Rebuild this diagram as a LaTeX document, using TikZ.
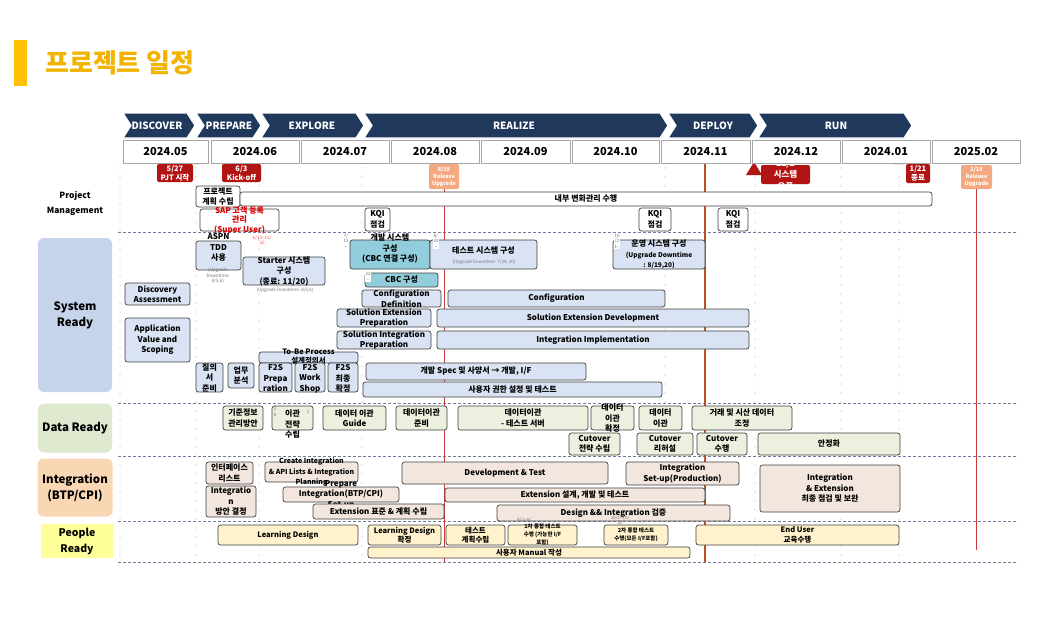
\documentclass[tikz,border=0pt]{standalone}
\usepackage{fontspec}
\setmainfont{Noto Sans CJK KR}
\usepackage{tikz}

\definecolor{navy}{RGB}{31,56,92}
\definecolor{titleyel}{RGB}{255,192,0}
\definecolor{titletxt}{RGB}{242,180,0}
\definecolor{msred}{RGB}{178,20,20}
\definecolor{relsalmon}{RGB}{244,168,128}
\definecolor{sysfill}{RGB}{218,227,243}
\definecolor{syslbl}{RGB}{197,212,235}
\definecolor{tealfill}{RGB}{146,205,220}
\definecolor{datfill}{RGB}{235,241,222}
\definecolor{datlbl}{RGB}{222,233,208}
\definecolor{intfill}{RGB}{242,230,222}
\definecolor{intlbl}{RGB}{249,215,180}
\definecolor{pplfill}{RGB}{255,242,204}
\definecolor{ppllbl}{RGB}{255,255,153}
\definecolor{sepgray}{RGB}{120,120,155}
\definecolor{dotgray}{RGB}{175,175,175}
\definecolor{novbrown}{RGB}{184,80,40}
\definecolor{relred}{RGB}{200,60,60}

\newcommand{\boxfont}{\fontsize{8}{10.5}\selectfont\bfseries}
\newcommand{\datefont}{\fontsize{4.5}{5.5}\selectfont}
\newcommand{\msfont}{\fontsize{7.5}{9}\selectfont\bfseries}
\newcommand{\relfont}{\fontsize{5.5}{7}\selectfont\bfseries}
\newcommand{\pplfont}{\fontsize{7.5}{9.5}\selectfont\bfseries}
\newcommand{\tinybold}{\fontsize{5.5}{8}\selectfont\bfseries}
\newcommand{\smallbold}{\fontsize{7}{10.5}\selectfont\bfseries}

% box from (x1,y1) to (x2,y2), text on top of it
\newcommand{\task}[8][]{%
  \node[#3, minimum width={(#6-#4)*1pt}, minimum height={(#7-#5)*1pt}] (#2) at ({(#4+#6)/2},{(#5+#7)/2}) {};
  \node[lbl, #1] (#2-t) at (#2.center) {#8};}

\tikzset{
  taskbox/.style={draw=black!75, rounded corners=2.5pt, line width=0.7pt, inner sep=0pt},
  pmbox/.style={taskbox, fill=white},
  sysbox/.style={taskbox, fill=sysfill},
  cbcbox/.style={taskbox, fill=tealfill},
  datbox/.style={taskbox, fill=datfill},
  intbox/.style={taskbox, fill=intfill},
  pplbox/.style={taskbox, fill=pplfill},
  msbox/.style={fill=msred, rounded corners=2pt, inner sep=0pt},
  relbox/.style={fill=relsalmon, rounded corners=2pt, inner sep=0pt},
  lbl/.style={align=center, inner sep=0pt, font=\boxfont},
  tinylbl/.style={align=center, inner sep=0pt, font=\datefont, text=black!55},
  datelbl/.style={tinylbl, fill=white, inner sep=0.5pt},
  rowlbl/.style={rounded corners=6pt, align=center, inner sep=0pt, font=\fontsize{11.5}{16}\selectfont\bfseries},
  phase/.style={fill=navy, draw=white, line width=1.2pt},
  phasetxt/.style={text=white, font=\fontsize{10}{12}\selectfont\bfseries},
  month/.style={draw=black!35, fill=white, line width=0.8pt, minimum height=23pt, inner sep=0pt, font=\fontsize{11}{12}\selectfont\bfseries},
  vgrid/.style={dotgray, line width=1.3pt, dash pattern=on 0pt off 9pt, line cap=round},
  hsep/.style={sepgray, line width=0.8pt, dash pattern=on 3pt off 2pt},
  relline/.style={relred, line width=0.9pt},
  novline/.style={novbrown, line width=2.4pt},
}

\begin{document}
\begin{tikzpicture}[x=1pt, y=-1pt]
\useasboundingbox[fill=white] (0,0) rectangle (1060,641);

% title
\fill[titleyel] (14,40) rectangle (27,86);
\node[anchor=west, text=titletxt, font=\fontsize{26}{30}\selectfont\bfseries, inner sep=0pt] (title) at (45,63) {프로젝트 일정};

% grid
\foreach \x in {120,196,259,362,665,755,841,899}
  \draw[vgrid] (\x,168) -- (\x,562);
\foreach \y in {232,403,456,521,562}
  \draw[hsep] (118,\y) -- (1018,\y);

% milestones
\fill[msred] (195,153) -- (200,164) -- (190,164) -- cycle;
\task[text=white, font=\msfont]{ms527}{msbox}{157}{164}{193}{182}{5/27\\PJT 시작}
\fill[msred] (226,154) -- (231,164) -- (221,164) -- cycle;
\task[text=white, font=\msfont]{ms63}{msbox}{222}{164}{261}{182}{6/3\\Kick-off}
\task[text=white, font=\relfont]{rel819}{relbox}{429}{164}{459}{189}{8/19\\Release\\Upgrade}
\fill[msred] (754,162) -- (762,175) -- (746,175) -- cycle;
\task[text=white, font=\fontsize{8.5}{11.5}\selectfont\bfseries]{ms122}{msbox}{761}{165}{810}{184}{12/2\\시스템\\오픈}
\fill[msred] (899,156) -- (904,164) -- (894,164) -- cycle;
\task[text=white, font=\msfont]{ms121}{msbox}{906}{164}{930}{183}{1/21\\종료}
\task[text=white, font=\relfont]{rel219}{relbox}{961}{165}{992}{189}{2/19\\Release\\Upgrade}

% release / open lines
\coordinate (rel819-end) at (444,562);
\coordinate (rel219-end) at (976.5,550);
\coordinate (open-top) at (705,164);
\coordinate (open-end) at (705,562);
\draw[relline] (rel819.south) -- (rel819-end);
\draw[relline] (rel219.south) -- (rel219-end);
\draw[novline] (open-top) -- (open-end);

% row labels
\node[align=center, font=\fontsize{8.5}{15}\selectfont\bfseries] (pmlbl) at (75,203) {Project\\Management};
\node[rowlbl, fill=syslbl, minimum width=74pt, minimum height=154pt] (sysrdy) at (75,315) {System\\Ready};
\node[rowlbl, fill=datlbl, minimum width=74pt, minimum height=49pt] (datrdy) at (75,428) {Data Ready};
\node[rowlbl, fill=intlbl, minimum width=75pt, minimum height=58pt] (intrdy) at (75,487.5) {Integration\\(BTP/CPI)};
\node[rowlbl, fill=ppllbl, rounded corners=0pt, minimum width=72pt, minimum height=34pt, font=\fontsize{10.5}{16}\selectfont\bfseries] (pplrdy) at (77,541) {People\\Ready};

% project management
\task{plan}{pmbox}{196}{186}{240}{207}{프로젝트\\계획 수립}
\task{chg}{pmbox}{240}{192}{932}{206}{내부 변화관리 수행}
\task[text=red!85!black, font=\fontsize{8}{9.5}\selectfont\bfseries]{sapusr}{pmbox}{200}{209}{279}{231}{SAP 고객 등록\\관리\\(Super User)}
\task{kqi1}{pmbox}{365}{208}{390}{231}{KQI\\점검}
\task{kqi2}{pmbox}{639}{208}{671}{231}{KQI\\점검}
\task{kqi3}{pmbox}{718}{208}{748}{231}{KQI\\점검}

% system ready
\task[yshift=8pt]{tdd}{sysbox}{196}{241}{241}{270}{ASPN\\TDD\\사용}
\node[tinylbl] (tdd-dt) at (218,276) {(Upgrade\\Downtime:\\8/5,6)};
\task{starter}{sysbox}{243}{257}{325}{285}{Starter 시스템\\구성\\(종료: 11/20)}
\node[tinylbl] (starter-dt) at (285,290) {(Upgrade Downtime: 8/5,6)};
\node[tinylbl, text=red!70] (starter-d) at (262,240) {6/10\textasciitilde 11/\\20};
\task{discass}{sysbox}{125}{283}{190}{305}{Discovery\\Assessment}
\task{appval}{sysbox}{125}{318}{190}{362}{Application\\Value and\\Scoping}
\task[font=\fontsize{7.5}{9}\selectfont\bfseries, yshift=1pt]{tobe}{sysbox}{259}{352}{358}{363}{To-Be Process\\설계정의서}
\task{qna}{sysbox}{196}{363}{223}{392}{질의\\서\\준비}
\task{biz}{sysbox}{228}{363}{254}{388}{업무\\분석}
\task[yshift=-1pt]{f2sprep}{sysbox}{259}{363}{292}{392}{F2S\\Prepa\\ration}
\task[yshift=-1pt]{f2sws}{sysbox}{295}{363}{325}{392}{F2S\\Work\\Shop}
\task[yshift=-1pt]{f2sfin}{sysbox}{328}{363}{358}{392}{F2S\\최종\\확정}
\task[yshift=6pt]{devsys}{cbcbox}{350}{240}{430}{269}{개발 시스템\\구성\\(CBC 연결 구성)}
\task[yshift=4pt]{testsys}{sysbox}{430}{240}{537}{269}{테스트 시스템 구성}
\node[tinylbl] (testsys-dt) at (484,262) {(Upgrade Downtime: 7/29, 30)};
\task{opsys}{sysbox}{613}{240}{705}{269}{운영 시스템 구성\\{\fontsize{6.5}{7.5}\selectfont (Upgrade Downtime}\\{\fontsize{6.5}{7.5}\selectfont : 8/19,20)}}
\task{cbc}{cbcbox}{365}{273}{438}{287}{CBC 구성}
\node[datelbl] (d715) at (346,241) {7/\\15\\\textasciitilde};
\node[datelbl] (d826) at (436,241) {8/\\26\\\textasciitilde};
\node[datelbl] (d1021) at (617,241) {10\\/2\\1\textasciitilde};
\node[datelbl] (d22) at (368,277) {22\\\textasciitilde};
\task{cfgdef}{sysbox}{362}{290}{441}{307}{Configuration\\Definition}
\task{cfg}{sysbox}{448}{290}{665}{307}{Configuration}
\task{sepre}{sysbox}{337}{309}{431}{327}{Solution Extension\\Preparation}
\task{sedev}{sysbox}{437}{309}{749}{327}{Solution Extension Development}
\task{sipre}{sysbox}{337}{331}{431}{349}{Solution Integration\\Preparation}
\task{iimpl}{sysbox}{437}{331}{749}{349}{Integration Implementation}
\task{devspec}{sysbox}{366}{363}{586}{380}{개발 Spec 및 사양서 → 개발, I/F}
\task{auth}{sysbox}{363}{382}{662}{397}{사용자 권한 설정 및 테스트}

% data ready
\task{mdm}{datbox}{223}{406}{263}{430}{기준정보\\관리방안}
\task[yshift=-6pt]{migstr}{datbox}{272}{406}{313}{430}{이관\\전략\\수립}
\node[tinylbl] (d28) at (275,412) {2\\8};
\node[tinylbl] (d2) at (308,412) {2};
\task{migguide}{datbox}{323}{406}{386}{430}{데이터 이관\\Guide}
\task{migprep}{datbox}{396}{406}{447}{430}{데이터이관\\준비}
\task{migtest}{datbox}{458}{406}{588}{430}{데이터이관\\- 테스트 서버}
\task{migconf}{datbox}{591}{406}{634}{430}{데이터\\이관\\확정}
\task{mig}{datbox}{639}{406}{682}{430}{데이터\\이관}
\task{txadj}{datbox}{692}{406}{792}{430}{거래 및 시산 데이터\\조정}
\task{cutstr}{datbox}{569}{433}{620}{455}{Cutover\\전략 수립}
\task{cutreh}{datbox}{637}{433}{693}{455}{Cutover\\리허설}
\task{cutexe}{datbox}{697}{433}{747}{455}{Cutover\\수행}
\task{stab}{datbox}{758}{433}{900}{455}{안정화}

% integration
\task{iflist}{intbox}{206}{462}{253}{484}{인터페이스\\리스트}
\task[font=\smallbold]{apilist}{intbox}{265}{462}{358}{482}{Create Integration\\\& API Lists \& Integration\\Planning}
\task{devtest}{intbox}{402}{462}{608}{484}{Development \& Test}
\task{intsetup}{intbox}{626}{462}{739}{485}{Integration\\Set-up(Production)}
\task{final}{intbox}{760}{465}{900}{512}{Integration\\\& Extension\\최종 점검 및 보완}
\task{prepint}{intbox}{283}{487}{399}{502}{Prepare\\Integration(BTP/CPI)\\Set-up}
\task{intdec}{intbox}{206}{486}{256}{517}{Integratio\\n\\방안 결정}
\task{extdev}{intbox}{445}{488}{705}{502}{Extension 설계, 개발 및 테스트}
\task{extstd}{intbox}{313}{504}{444}{519}{Extension 표준 \& 계획 수립}
\task{design}{intbox}{497}{505}{730}{521}{Design \&\& Integration 검증}

% people ready
\node[tinylbl] (d92) at (524,520) {9/2\textasciitilde 9/};
\node[tinylbl] (d101) at (620,520) {10/1\textasciitilde 10/\\25};
\task[font=\pplfont]{lrn}{pplbox}{218}{525}{358}{545}{Learning Design}
\task[font=\pplfont]{lrnconf}{pplbox}{368}{525}{441}{545}{Learning Design\\확정}
\task[font=\pplfont]{testplan}{pplbox}{446}{525}{505}{545}{테스트\\계획수립}
\task[font=\tinybold]{itest1}{pplbox}{508}{525}{577}{545}{1차 통합 테스트\\수행 (가능한 I/F\\포함)}
\task[font=\tinybold]{itest2}{pplbox}{604}{525}{668}{545}{2차 통합 테스트\\수행(모든 I/F포함)}
\task[font=\pplfont]{euser}{pplbox}{696}{525}{899}{545}{End User\\교육수행}
\task[font=\pplfont]{manual}{pplbox}{368}{547}{690}{558}{사용자 Manual 작성}

% phases
\foreach \l/\r/\c/\t/\nm in {123/195/157/DISCOVER/ph-disc, 196/261/229/PREPARE/ph-prep, 261/364/312/EXPLORE/ph-expl, 364/668/514/REALIZE/ph-real, 668/758/713/DEPLOY/ph-depl, 758/912/836/RUN/ph-run}{
  \draw[phase] (\l,113) -- ({\r-8},113) -- (\r,125.5) -- ({\r-8},138) -- (\l,138) -- ({\l+8},125.5) -- cycle;
  \node[phasetxt] (\nm) at (\c,125.5) {\t};
}

% months
\foreach \l/\r/\t/\nm in {123/208/2024.05/may, 211/299/2024.06/jun, 301/389/2024.07/jul, 391/479/2024.08/aug, 481/570/2024.09/sep, 572/659/2024.10/oct, 661/750/2024.11/nov, 752/840/2024.12/dec, 842/930/2024.01/jan, 932/1020/2025.02/feb}
  \node[month, minimum width={(\r-\l)*1pt}] (\nm) at ({(\l+\r)/2},151.5) {\t};

\end{tikzpicture}
\end{document}
